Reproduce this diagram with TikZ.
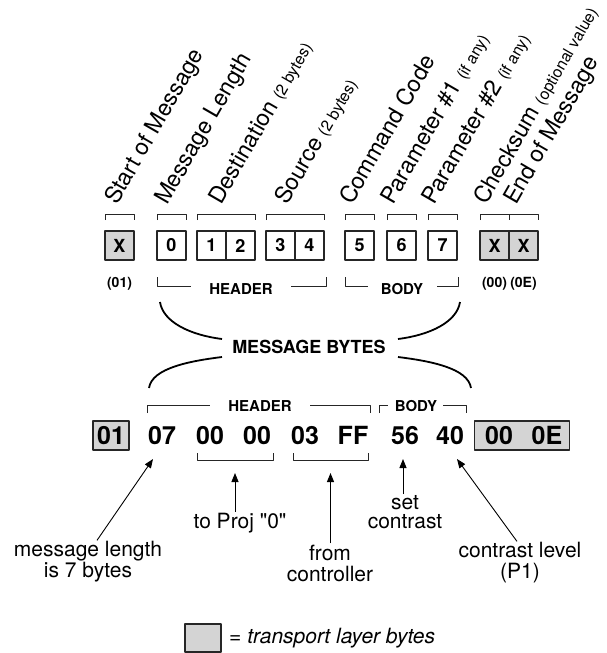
\documentclass[tikz,border=0pt]{standalone}
\usepackage{fontspec}
\setmainfont{TeX Gyre Heros}
\usetikzlibrary{arrows.meta}

\tikzset{
  cell/.style={draw=black!85, line width=1.1pt, minimum width=29pt, minimum height=29pt,
    inner sep=0pt, outer sep=0pt, font=\fontsize{18}{18}\selectfont\bfseries},
  tcell/.style={cell, fill=black!17},
  field/.style={rotate=60, anchor=base west, inner sep=0pt, font=\fontsize{23}{25}\selectfont},
  tag/.style={inner sep=1pt, font=\fontsize{14}{16}\selectfont\bfseries},
  part/.style={inner sep=1pt, font=\fontsize{15}{16}\selectfont\bfseries},
  hex/.style={inner sep=0pt, font=\fontsize{25}{25}\selectfont\bfseries},
  hexbox/.style={draw=black!85, fill=black!17, line width=1.1pt, minimum height=29pt, inner sep=0pt},
  note/.style={align=center, inner sep=1pt, font=\fontsize{21}{21}\selectfont},
  brk/.style={line width=0.9pt, draw=black!85},
  swoop/.style={line width=1.8pt},
  ptr/.style={line width=0.9pt, -{Triangle[length=9pt,width=7pt]}},
}
\newcommand{\aside}[1]{{\fontsize{16}{18}\selectfont #1}}

\begin{document}
\begin{tikzpicture}[x=1pt, y=-1pt, line join=round]
\useasboundingbox (0,0) rectangle (607,653);

% byte cells
\node[tcell] (som) at (119.5,245.5) {X};
\node[cell] (len) at (171.5,245.5) {0};
\node[cell] (dsta) at (211.5,245.5) {1};
\node[cell] (dstb) at (240.5,245.5) {2};
\node[cell] (srca) at (280.5,245.5) {3};
\node[cell] (srcb) at (309.5,245.5) {4};
\node[cell] (cmd) at (359.5,245.5) {5};
\node[cell] (para) at (401.5,245.5) {6};
\node[cell] (parb) at (442.5,245.5) {7};
\node[tcell] (chk) at (494.5,245.5) {X};
\node[tcell] (eom) at (523.5,245.5) {X};

% field names
\node[field] (fsom) at (117,206) {Start of Message};
\node[field] (flen) at (167,206) {Message Length};
\node[field] (fdst) at (221,206) {Destination \aside{(2 bytes)}};
\node[field] (fsrc) at (287,206) {Source \aside{(2 bytes)}};
\node[field] (fcmd) at (352,206) {Command Code};
\node[field] (fpara) at (393,206) {Parameter \#1 \aside{(if any)}};
\node[field] (fparb) at (434,206) {Parameter \#2 \aside{(if any)}};
\node[field] (fchk) at (486,206) {Checksum \aside{(optional value)}};
\node[field] (feom) at (516,206) {End of Message};

% brackets over the cells
\draw[brk] (105,220) -- (105,214) -- (134,214) -- (134,220);
\draw[brk] (157,220) -- (157,214) -- (186,214) -- (186,220);
\draw[brk] (197,220) -- (197,214) -- (255,214) -- (255,220);
\draw[brk] (266,220) -- (266,214) -- (324,214) -- (324,220);
\draw[brk] (345,220) -- (345,214) -- (374,214) -- (374,220);
\draw[brk] (387,220) -- (387,214) -- (416,214) -- (416,220);
\draw[brk] (428,220) -- (428,214) -- (457,214) -- (457,220);
\draw[brk] (480,220) -- (480,214) -- (538,214) -- (538,220) (509,214) -- (509,220);

% values and groups
\node[tag] (vsom) at (119.5,284) {(01)};
\node[tag] (vchk) at (494.5,284) {(00)};
\node[tag] (veom) at (523.5,284) {(0E)};
\node[part] (hdr) at (241,289) {HEADER};
\node[part] (bdy) at (402,289) {BODY};
\draw[brk] (157,277) -- (157,286) -- (191,286);
\draw[brk] (291,286) -- (326,286) -- (326,277);
\draw[brk] (345,277) -- (345,286) -- (368,286);
\draw[brk] (437,286) -- (458,286) -- (458,277);

% message bytes
\node[inner sep=1pt, font=\fontsize{18}{18}\selectfont\bfseries] (mb) at (309,347) {MESSAGE BYTES};
\coordinate (ul) at (160,302);
\coordinate (ur) at (460,302);
\coordinate (ll) at (149,388);
\coordinate (lr) at (471,388);
\draw[swoop] (ul) .. controls (163,322) and (190,335) .. (222,339);
\draw[swoop] (ur) .. controls (457,322) and (430,335) .. (398,339);
\draw[swoop] (222,357) .. controls (190,361) and (152,368) .. (ll);
\draw[swoop] (398,357) .. controls (430,361) and (468,368) .. (lr);

% example message
\node[part] (hdr2) at (260,406) {HEADER};
\node[part] (bdy2) at (416,406) {BODY};
\draw[brk] (147,413) -- (147,405) -- (210,405);
\draw[brk] (310,405) -- (370,405) -- (370,413);
\draw[brk] (379,413) -- (379,405) -- (388,405);
\draw[brk] (443,405) -- (466,405) -- (466,413);

\node[hexbox, minimum width=36pt, font=\fontsize{25}{25}\selectfont\bfseries] (h01) at (111,435.5) {01};
\node[hex] (h07) at (162,435.5) {07};
\node[hex] (hdsta) at (210,435.5) {00};
\node[hex] (hdstb) at (257,435.5) {00};
\node[hex] (hsrca) at (305,435.5) {03};
\node[hex] (hsrcb) at (353,435.5) {FF};
\node[hex] (hcmd) at (405,435.5) {56};
\node[hex] (hpar) at (450,435.5) {40};
\node[hexbox, minimum width=95pt] (htail) at (522,435.5) {};
\node[hex] (hchk) at (499,435.5) {00};
\node[hex] (heom) at (547,435.5) {0E};

\draw[brk] (197,453) -- (197,460) -- (273,460) -- (273,453);
\draw[brk] (293,453) -- (293,460) -- (368,460) -- (368,453);
\coordinate (udst) at (235,460);
\coordinate (usrc) at (330.5,460);
\coordinate (p07) at (153,459);
\coordinate (p56) at (403,459);
\coordinate (p40) at (457,459);

% notes
\node[note] (nlen) at (88,562) {message length\\is 7 bytes};
\node[note] (nproj) at (240,523) {to Proj \textquotedbl0\textquotedbl};
\node[note] (nsrc) at (330,563) {from\\controller};
\node[note, font=\fontsize{21}{19}\selectfont] (ncmd) at (405,512) {set\\contrast};
\node[note] (npar) at (520,563) {contrast level\\(P1)};

\draw[ptr] ([xshift=9pt]nlen.north) -- (p07);
\draw[ptr] (nproj.north -| udst) -- ([yshift=-13pt]udst);
\draw[ptr] (nsrc.north -| usrc) -- ([yshift=-13pt]usrc);
\draw[ptr] (ncmd.north -| p56) -- (p56);
\draw[ptr] ([xshift=-3pt]npar.north) -- (p40);

% key
\node[tcell, minimum width=36pt, minimum height=28pt] (key) at (203,638) {};
\node[anchor=west, inner sep=0pt, font=\fontsize{21}{21}\selectfont\itshape] (keytxt) at ([xshift=8pt]key.east) {= transport layer bytes};
\end{tikzpicture}
\end{document}
